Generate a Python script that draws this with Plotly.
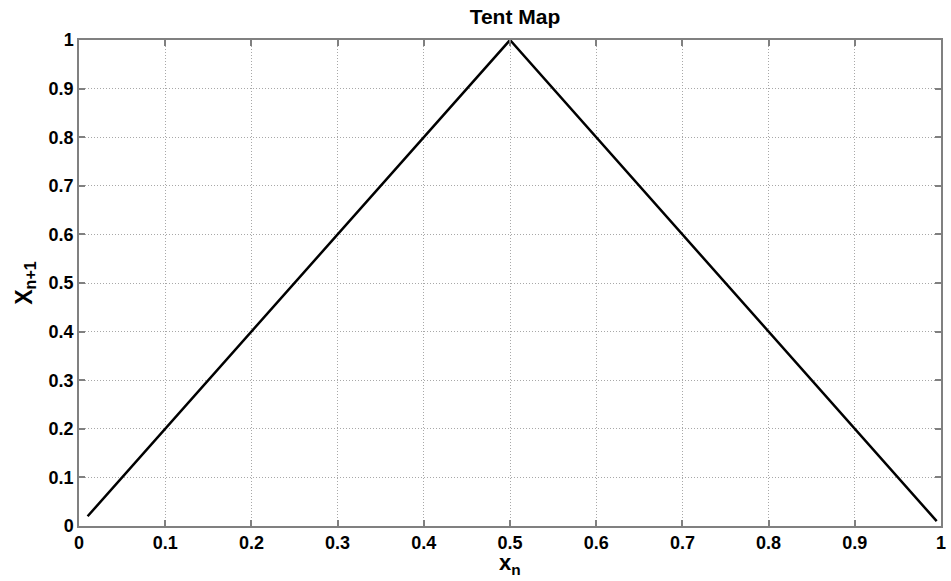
import plotly.graph_objects as go

# Tent map x_{n+1} = 2 x_n for x_n < 0.5, 2 (1 - x_n) otherwise
x_vals = [0.01, 0.5, 0.995]
y_vals = [0.02, 1.0, 0.01]

tick_vals = [0, 0.1, 0.2, 0.3, 0.4, 0.5, 0.6, 0.7, 0.8, 0.9, 1]
tick_text = ["0", "0.1", "0.2", "0.3", "0.4", "0.5", "0.6", "0.7", "0.8", "0.9", "1"]

font_family = "Liberation Sans, Arial, sans-serif"

fig = go.Figure()
fig.add_trace(go.Scatter(
    x=x_vals, y=y_vals, mode="lines",
    line=dict(color="black", width=2.5),
    showlegend=False,
))

axis_common = dict(
    tickvals=tick_vals, ticktext=tick_text,
    showgrid=True, gridcolor="#a8a8a8", griddash="1px,2px", gridwidth=1,
    showline=True, linecolor="#808080", linewidth=1.5, mirror="ticks",
    ticks="inside", ticklen=6, tickcolor="#808080", tickwidth=1.5,
    tickfont=dict(family=font_family, size=18, color="black", weight="bold"),
    zeroline=False,
)

fig.update_layout(
    width=951, height=581,
    margin=dict(l=79, r=5, t=40, b=55),
    paper_bgcolor="white", plot_bgcolor="white",
    title=dict(
        text="Tent Map", x=0.5415, xanchor="center", y=0.972, yanchor="middle",
        font=dict(family=font_family, size=21, color="black", weight="bold"),
    ),
    xaxis=dict(range=[0, 1], ticklabelstandoff=0, **axis_common),
    yaxis=dict(
        range=[0, 1],
        title=dict(text="X<sub>n+1</sub>", standoff=10,
                   font=dict(family=font_family, size=23, color="black", weight="bold")),
        **axis_common,
    ),
)

# x-axis label placed just beneath the tick labels
fig.add_annotation(
    text="x<sub>n</sub>", xref="paper", yref="paper", x=0.5, y=0,
    xanchor="center", yanchor="top", yshift=-22, showarrow=False,
    font=dict(family=font_family, size=22, color="black", weight="bold"),
)

fig.write_html("out.html")
